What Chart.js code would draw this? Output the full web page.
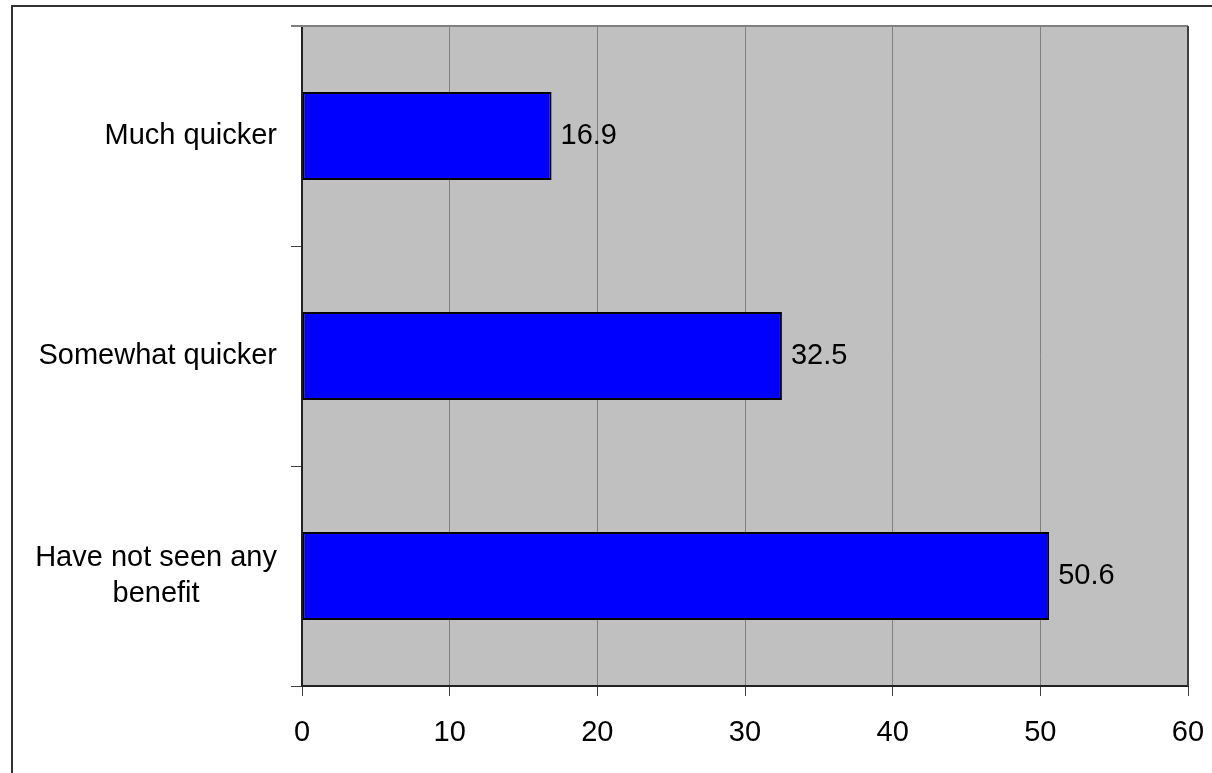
<!DOCTYPE html>
<html>
<head>
<meta charset="utf-8">
<script src="https://cdn.jsdelivr.net/npm/chart.js@4"></script>
<style>
    html, body { margin: 0; padding: 0; background: #fff; }
</style>
</head>
<body>
<canvas id="myChart" width="1212" height="773"></canvas>
<script>
const categories = ['Much quicker', 'Somewhat quicker', ['Have not seen any', 'benefit']]
const values = [16.9, 32.5, 50.6]
const valueLabels = ['16.9', '32.5', '50.6']
const xTicks = [0, 10, 20, 30, 40, 50, 60]

const FONT = '29px "Liberation Sans", Arial, sans-serif'

// gray plot background + outer frame
const frame = {
    id: 'frame',
    beforeDraw(chart) {
        const {ctx, chartArea: a} = chart
        ctx.save()
        ctx.fillStyle = '#C0C0C0'
        ctx.fillRect(a.left, a.top, a.right - a.left, a.bottom - a.top)
        ctx.strokeStyle = '#333'
        ctx.lineWidth = 2
        ctx.strokeRect(12, 6, 1300, 900)
        ctx.restore()
    },
    afterDraw(chart) {
        const {ctx, chartArea: a} = chart
        ctx.save()
        ctx.lineWidth = 2
        ctx.strokeStyle = '#808080'
        ctx.beginPath()
        ctx.moveTo(a.left - 11, a.top)
        ctx.lineTo(a.right, a.top)
        ctx.stroke()
        ctx.strokeStyle = '#404040'
        ctx.beginPath()
        ctx.moveTo(a.right, a.top)
        ctx.lineTo(a.right, a.bottom)
        ctx.stroke()
        ctx.restore()
    }
}

// category labels (right edge fixed, lines centred) and value labels
const labelsPlugin = {
    id: 'labelsPlugin',
    afterDatasetsDraw(chart) {
        const {ctx, chartArea: a} = chart
        const yScale = chart.scales.y
        ctx.save()
        ctx.font = FONT
        ctx.fillStyle = '#000'
        ctx.textBaseline = 'middle'
        ctx.textAlign = 'center'
        categories.forEach((cat, i) => {
            const lines = Array.isArray(cat) ? cat : [cat]
            const y = yScale.getPixelForValue(i)
            const maxW = Math.max(...lines.map(l => ctx.measureText(l).width))
            const cx = a.left - 25 - maxW / 2
            const lh = 36
            lines.forEach((l, j) => {
                ctx.fillText(l, cx, y - (lines.length - 1) * lh / 2 + j * lh)
            })
        })
        ctx.textAlign = 'left'
        chart.getDatasetMeta(0).data.forEach((bar, i) => {
            ctx.fillText(valueLabels[i], bar.x + 9, bar.y)
        })
        ctx.restore()
    }
}

const data = {
    labels: categories,
    datasets: [{
        data: values,
        backgroundColor: '#0000FF',
        borderColor: '#000',
        borderWidth: 2,
        borderSkipped: false,
        categoryPercentage: 1,
        barPercentage: 0.4
    }]
}

const config = {
    type: 'bar',
    data: data,
    options: {
        responsive: false,
        animation: false,
        indexAxis: 'y',
        layout: { padding: { top: 26, right: 24, left: 0, bottom: 0 } },
        plugins: {
            legend: { display: false },
            tooltip: { enabled: false }
        },
        scales: {
            x: {
                min: xTicks[0],
                max: xTicks[xTicks.length - 1],
                ticks: {
                    stepSize: xTicks[1] - xTicks[0],
                    color: '#000',
                    font: { family: '"Liberation Sans", Arial, sans-serif', size: 29 },
                    padding: 20,
                    maxRotation: 0
                },
                grid: {
                    color: '#808080',
                    lineWidth: 1,
                    tickColor: '#404040',
                    tickLength: 10
                },
                border: { color: '#222', width: 2 },
                afterFit(scale) {
                    scale.height = 87
                    scale.paddingLeft = 0
                    scale.paddingRight = 0
                }
            },
            y: {
                offset: true,
                ticks: { display: false },
                grid: {
                    offset: true,
                    drawOnChartArea: false,
                    tickColor: '#404040',
                    tickLength: 11
                },
                border: { color: '#222', width: 2 },
                afterFit(scale) { scale.width = 302 }
            }
        }
    },
    plugins: [frame, labelsPlugin]
}

const myChart = new Chart(document.getElementById('myChart'), config)
</script>
</body>
</html>
